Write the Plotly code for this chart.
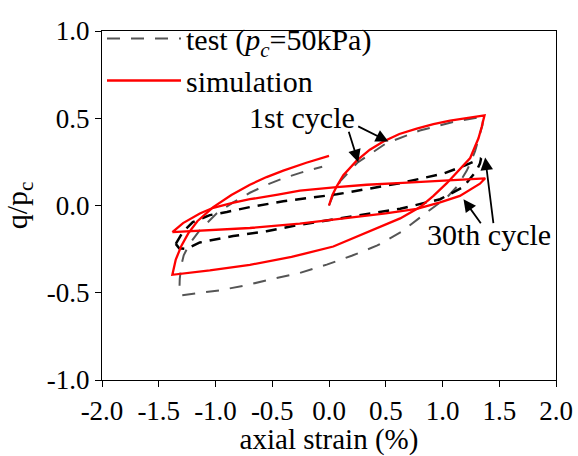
import plotly.graph_objects as go

# ---------------- data ----------------
# simulation, 1st cycle: loading -> unloading -> reloading
sim1_x = [0.0, 0.03, 0.068, 0.126, 0.244, 0.36, 0.479, 0.62, 0.773, 0.92, 1.067, 1.22, 1.37,
          1.345, 1.317, 1.244, 1.141, 1.038, 0.92, 0.803, 0.627, 0.333, 0.038, -0.33, -0.697, -1.05, -1.38,
          -1.35, -1.30, -1.24, -1.16, -1.02, -0.86, -0.697, -0.55, -0.403, -0.2, 0.0]
sim1_y = [0.0, 0.06, 0.11, 0.174, 0.257, 0.32, 0.367, 0.41, 0.44, 0.466, 0.486, 0.503, 0.517,
          0.45, 0.385, 0.272, 0.2, 0.128, 0.055, -0.009, -0.074, -0.156, -0.235, -0.295, -0.34, -0.372, -0.397,
          -0.31, -0.23, -0.16, -0.09, -0.009, 0.06, 0.119, 0.163, 0.2, 0.245, 0.284]
# simulation, 30th cycle loop
sim30_x = [-1.38, -1.33, -1.286, -1.138, -1.02, -0.85, -0.697, -0.45, -0.256, 0.068, 0.333, 0.65, 0.92, 1.15, 1.376,
           1.33, 1.27, 1.153, 0.979, 0.773, 0.5, 0.333, 0.0, -0.258, -0.697, -1.05, -1.38]
sim30_y = [-0.153, -0.125, -0.101, -0.046, -0.013, 0.015, 0.036, 0.062, 0.085, 0.105, 0.119, 0.13, 0.139, 0.148, 0.156,
           0.125, 0.1, 0.055, 0.018, -0.019, -0.045, -0.058, -0.085, -0.104, -0.129, -0.143, -0.153]
# test, 1st cycle
test1_x = [0.0, 0.04, 0.1, 0.25, 0.5, 0.8, 1.1, 1.25, 1.36,
           1.352, 1.32, 1.287, 1.25, 1.214, 1.126, 1.038, 0.88, 0.715, 0.64, 0.426, 0.2, -0.02, -0.258, -0.491,
           -0.73, -0.964, -1.197, -1.3,
           -1.318, -1.315, -1.3, -1.28, -1.23, -1.138, -0.991, -0.844, -0.697, -0.55, -0.403, -0.24, -0.06]
test1_y = [0.0, 0.065, 0.14, 0.245, 0.355, 0.43, 0.48, 0.498, 0.51,
           0.46, 0.38, 0.312, 0.25, 0.2, 0.107, 0.046, -0.03, -0.11, -0.15, -0.229, -0.288, -0.339, -0.387, -0.42,
           -0.457, -0.486, -0.504, -0.515,
           -0.49, -0.42, -0.34, -0.285, -0.22, -0.141, -0.046, 0.018, 0.073, 0.118, 0.156, 0.19, 0.222]
# test, 30th cycle loop
test30_x = [-1.35, -1.33, -1.286, -1.2, -1.05, -0.9, -0.697, -0.403, -0.258, 0.068, 0.627, 1.008, 1.2, 1.34,
            1.33, 1.3, 1.185, 0.979, 0.627, 0.18, 0.0, -0.256, -0.55, -0.844, -1.138, -1.257, -1.32, -1.35]
test30_y = [-0.22, -0.196, -0.15, -0.095, -0.055, -0.037, -0.009, 0.024, 0.036, 0.064, 0.128, 0.183, 0.23, 0.27,
            0.24, 0.2, 0.107, 0.036, -0.019, -0.064, -0.083, -0.11, -0.147, -0.175, -0.212, -0.249, -0.245, -0.22]

tick_vals = [-2.0, -1.5, -1.0, -0.5, 0.0, 0.5, 1.0, 1.5, 2.0]
x_tick_text = ["-2.0", "-1.5", "-1.0", "-0.5", "0.0", "0.5", "1.0", "1.5", "2.0"]
y_tick_vals = [-1.0, -0.5, 0.0, 0.5, 1.0]
y_tick_text = ["-1.0", "-0.5", "0.0", "0.5", "1.0"]

FONT = "Liberation Serif, Times New Roman, serif"

fig = go.Figure()
fig.add_trace(go.Scatter(x=test1_x, y=test1_y, mode="lines", name="test (<i>p</i><sub><i>c</i></sub>=50kPa)",
                         legendgroup="test",
                         line=dict(color="#555555", width=2, dash="13px,11px")))
fig.add_trace(go.Scatter(x=test30_x, y=test30_y, mode="lines", showlegend=False, legendgroup="test",
                         line=dict(color="black", width=2.5, dash="11px,8px")))
fig.add_trace(go.Scatter(x=sim1_x + [None] + sim30_x, y=sim1_y + [None] + sim30_y, mode="lines",
                         name="simulation", connectgaps=False,
                         line=dict(color="#ff0000", width=2.3)))

axis_common = dict(showgrid=False, zeroline=False, showline=True, linecolor="black", linewidth=1.3,
                   mirror=True, ticks="outside", ticklen=6, tickwidth=1.3, tickcolor="black",
                   automargin=False,
                   tickfont=dict(family=FONT, size=27, color="black"))
fig.update_xaxes(range=[-2, 2], tickvals=tick_vals, ticktext=x_tick_text,
                 title=dict(text="axial strain (%)", font=dict(family=FONT, size=29, color="black"),
                            standoff=6),
                 **axis_common)
fig.update_yaxes(range=[-1, 1], tickvals=y_tick_vals, ticktext=y_tick_text,
                 title=dict(text="q/p<sub>c</sub>", font=dict(family=FONT, size=30, color="black")),
                 **axis_common)

arrow_style = dict(xref="x", yref="y", axref="x", ayref="y", text="", showarrow=True,
                   arrowhead=2, arrowsize=1.4, arrowwidth=1.8, arrowcolor="black", standoff=0)
fig.add_annotation(x=0.258, y=0.248, ax=0.17, ay=0.431, **arrow_style)
fig.add_annotation(x=0.523, y=0.367, ax=0.244, ay=0.458, **arrow_style)
fig.add_annotation(x=1.185, y=0.036, ax=1.347, ay=-0.110, **arrow_style)
fig.add_annotation(x=1.376, y=0.275, ax=1.45, ay=-0.11, **arrow_style)
fig.add_annotation(x=-0.238, y=0.503, xref="x", yref="y", text="1st cycle", showarrow=False,
                   font=dict(family=FONT, size=30, color="black"))
fig.add_annotation(x=1.412, y=-0.169, xref="x", yref="y", text="30th cycle", showarrow=False,
                   font=dict(family=FONT, size=30, color="black"))

fig.update_layout(width=578, height=456, margin=dict(l=102, r=22, t=17, b=76),
                  paper_bgcolor="white", plot_bgcolor="white",
                  font=dict(family=FONT, color="black"),
                  legend=dict(x=0, y=1.053, xanchor="left", yanchor="top", bgcolor="rgba(0,0,0,0)",
                              font=dict(family=FONT, size=30, color="black"), itemwidth=74,
                              tracegroupgap=0))
fig.write_html("out.html")
